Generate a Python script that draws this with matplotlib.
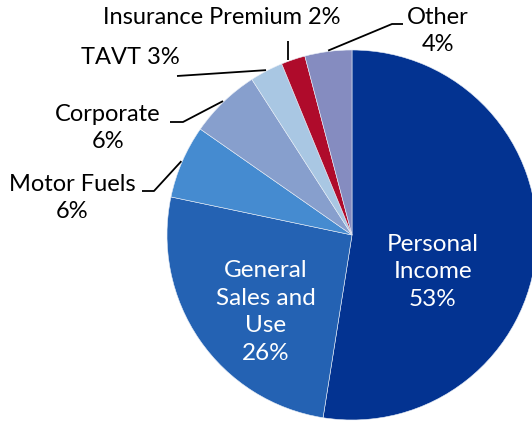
"""Georgia tax revenue by source - pie chart with leader-line labels. Writes out.png."""
import numpy as np
import matplotlib
matplotlib.use("Agg")
import matplotlib.pyplot as plt

plt.rcParams["font.family"] = ["Lato", "DejaVu Sans"]

# data (clockwise from 12 o'clock)
sources = ["Personal Income", "General Sales and Use", "Motor Fuels", "Corporate",
           "TAVT", "Insurance Premium", "Other"]
shares = [52.5, 25.8, 6.4, 6.2, 2.9, 2.1, 4.1]
labels = ["Personal\nIncome\n53%", "General\nSales and\nUse\n26%", "Motor Fuels\n6%",
          "Corporate\n6%", "TAVT 3%", "Insurance Premium 2%", "Other\n4%"]
colors = ["#033391", "#2462B3", "#458BD0", "#879FCD", "#A9C7E3", "#AF0B2B", "#858CC0"]

W, H = 532, 424
CX, CY, R = 352, 235, 185   # pie centre / radius in pixels (y from top)


def Y(y):
    # pixel row (from top) -> axes data y
    return H - y


fig = plt.figure(figsize=(W / 100, H / 100), dpi=100)
ax = fig.add_axes([0, 0, 1, 1])
wedges, _ = ax.pie(shares, colors=colors, startangle=90, counterclock=False,
                   center=(CX, Y(CY)), radius=R,
                   wedgeprops=dict(edgecolor="#e8eef7", linewidth=0.4))
ax.set_xlim(0, W); ax.set_ylim(0, H); ax.set_aspect("equal"); ax.axis("off")

# inside labels
ax.text(433, Y(272), labels[0], ha="center", va="center", color="white",
        fontsize=17.5, linespacing=1.4)
ax.text(266, Y(312), labels[1], ha="center", va="center", color="white",
        fontsize=17.5, linespacing=1.4)


def edge_point(w, shift=0.0, r=1.005):
    a = np.deg2rad((w.theta1 + w.theta2) / 2 + shift)
    return CX + R * r * np.cos(a), CY - R * r * np.sin(a)


# outside labels: (wedge index, angle shift, leader path after edge point, text x, text y)
outside = [
    (2, 0, [(154, 191), (142, 191)], 72, 198),
    (3, 0, [(183, 122), (170, 122)], 108, 128),
    (4, 0, [(177, 76)], 130, 57),
    (5, 1.5, "vertical", 222, 18),
    (6, 0, [(392, 24), (403, 24)], 438, 31),
]
for i, shift, path, tx, ty in outside:
    x0, y0 = edge_point(wedges[i], shift)
    if path == "vertical":
        pts = [(x0, y0), (x0, 41)]
    else:
        pts = [(x0, y0)] + path
    ax.plot([p[0] for p in pts], [Y(p[1]) for p in pts], color="black", lw=1.3,
            solid_capstyle="butt")
    ax.text(tx, Y(ty), labels[i], ha="center", va="center", color="black",
            fontsize=17, linespacing=1.3)

fig.savefig("out.png", dpi=100)
